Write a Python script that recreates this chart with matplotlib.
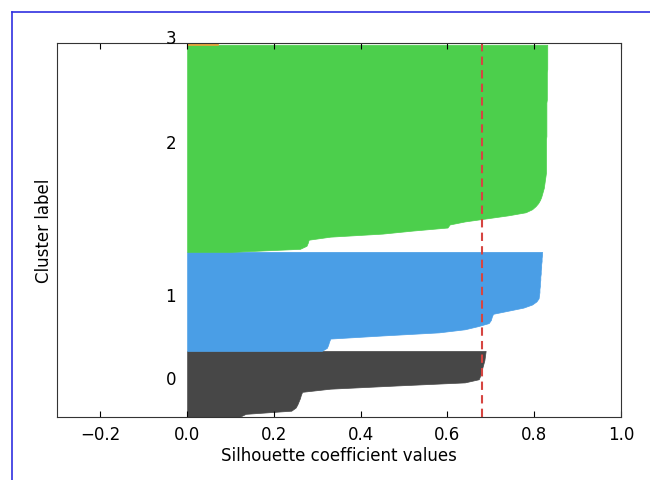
import numpy as np
import matplotlib.pyplot as plt
from matplotlib.lines import Line2D

#valeurs de silhouette triées pour chaque cluster
noms_clusters = ['0', '1', '2', '3']
couleurs = ['#474747', '#4a9ee6', '#4ccf4c', '#e8a33a']

sil_0 = [0.12, 0.135, 0.24, 0.25, 0.254, 0.257, 0.26, 0.262, 0.265, 0.33, 0.48,
         0.64, 0.672, 0.675, 0.677, 0.679, 0.681, 0.683, 0.685, 0.686, 0.687, 0.688]

sil_1 = [0.31, 0.322, 0.325, 0.327, 0.33, 0.45, 0.58, 0.64, 0.67, 0.695, 0.70,
         0.702, 0.705, 0.74, 0.775, 0.795, 0.805, 0.81, 0.811, 0.812, 0.812, 0.813,
         0.813, 0.814, 0.814, 0.815, 0.815, 0.816, 0.816, 0.817, 0.817, 0.818, 0.818]

sil_2 = [0.10, 0.26, 0.275, 0.278, 0.28, 0.33, 0.45, 0.52, 0.60, 0.605, 0.64,
         0.69, 0.74, 0.78, 0.795, 0.803, 0.809, 0.813, 0.816, 0.818, 0.82, 0.822,
         0.823, 0.824, 0.825, 0.826, 0.827, 0.827, 0.827, 0.827, 0.827, 0.827,
         0.827, 0.827, 0.827, 0.827, 0.827, 0.827, 0.828, 0.828, 0.828, 0.828,
         0.828, 0.828, 0.828, 0.828, 0.828, 0.828, 0.828, 0.828, 0.829, 0.829,
         0.829, 0.829, 0.829, 0.829, 0.829, 0.829, 0.829, 0.829, 0.83, 0.83,
         0.83, 0.83, 0.83, 0.83, 0.83, 0.83, 0.83]

sil_3 = [0.07]

silhouettes = [sil_0, sil_1, sil_2, sil_3]
silhouette_moyenne = 0.68

fig = plt.figure(figsize=(6.5, 4.81), dpi=100)
ax = fig.add_axes([0.0877, 0.131, 0.8677, 0.7776])

y_bas = 0
for i in range(len(silhouettes)):
    vals = silhouettes[i]
    n = len(vals)
    if n == 1:
        vals = vals * 2
    y = np.linspace(y_bas, y_bas + n, len(vals))
    ax.fill_betweenx(y, 0, vals, facecolor=couleurs[i], edgecolor=couleurs[i], linewidth=0.5)
    ax.text(-0.05, y_bas + 0.5 * n, noms_clusters[i], fontsize=12)
    y_bas += n

#ligne de la moyenne
ax.axvline(x=silhouette_moyenne, color='#d64541', linestyle=(0, (4, 2.5)), linewidth=1.5)

ax.set_xlim(-0.3, 1.0)
ax.set_ylim(0, y_bas - 0.4)
ax.set_xticks([-0.2, 0.0, 0.2, 0.4, 0.6, 0.8, 1.0])
ax.set_yticks([])
ax.tick_params(axis='x', direction='in', top=True, length=4, labelsize=12, pad=6)
for s in ax.spines.values():
    s.set_color('#333333')

ax.set_xlabel('Silhouette coefficient values', fontsize=12, labelpad=2)
ax.set_ylabel('Cluster label', fontsize=12, labelpad=3)

#cadre bleu de la capture
fig.add_artist(Line2D([12 / 650, 12 / 650], [0, 1 - 12.7 / 481], color='#3030e0', linewidth=1.2))
fig.add_artist(Line2D([12 / 650, 1], [1 - 12.7 / 481, 1 - 12.7 / 481], color='#3030e0', linewidth=1.2))

plt.savefig('out.png', dpi=100)
